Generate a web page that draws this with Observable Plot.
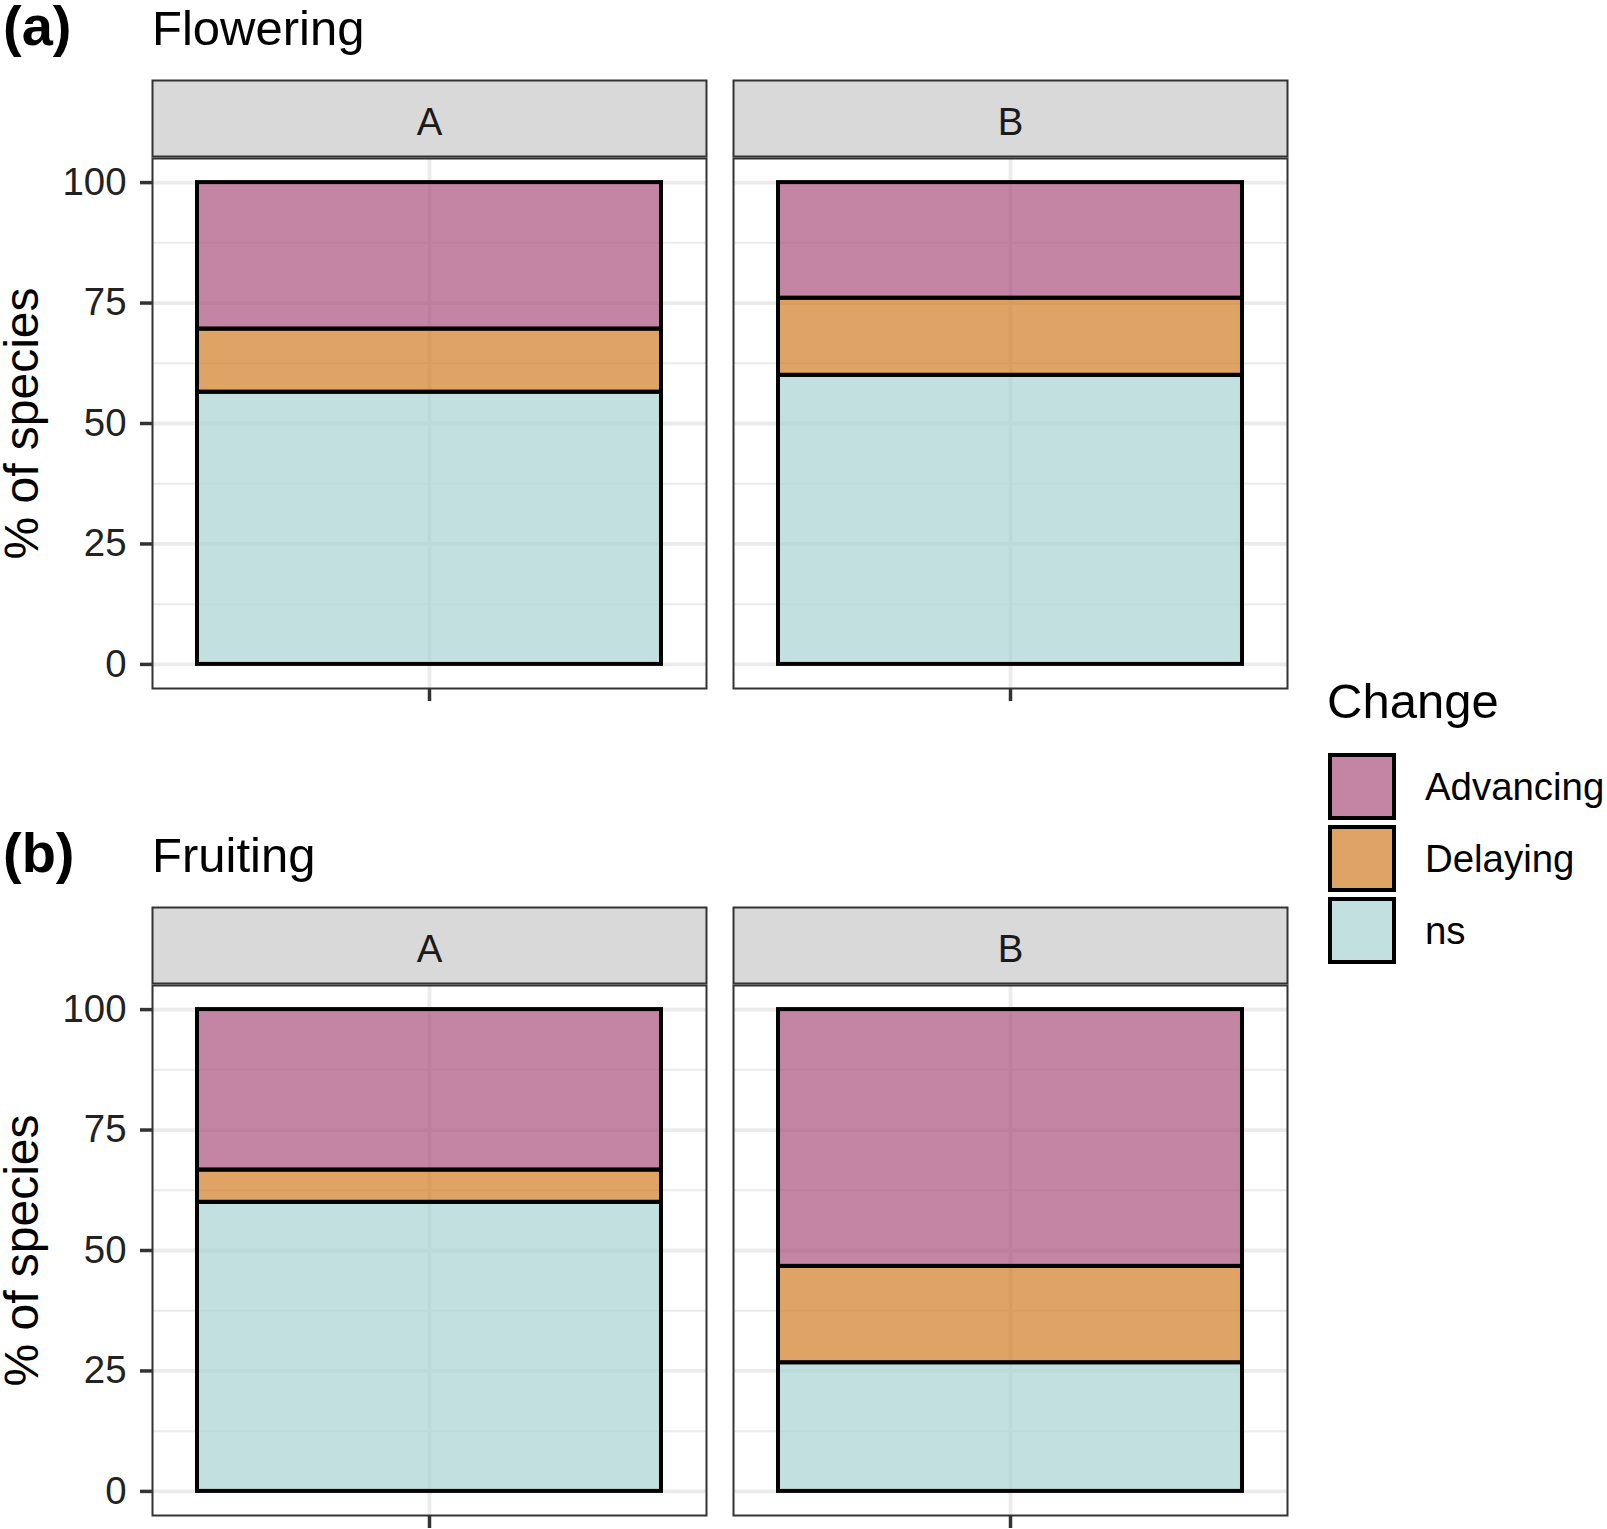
<!DOCTYPE html>
<html><head><meta charset="utf-8">
<script src="https://cdn.jsdelivr.net/npm/d3@7"></script>
<script src="https://cdn.jsdelivr.net/npm/@observablehq/plot@0.6"></script>
<style>
body{margin:0;background:#fff}
#root{position:relative;width:1607px;height:1529px;background:#fff;overflow:hidden;font-family:"Liberation Sans",Arial,sans-serif}
.row{position:absolute;left:0}
.row svg{overflow:visible}
g[aria-label="y-axis label"], g[aria-label="y-axis label"] text{font-size:48px;fill:#000}
#overlay{position:absolute;left:0;top:0;pointer-events:none}
</style></head><body><div id="root"></div>
<script>
// ---- data ----
const sites = ["A", "B"];
const changes = ["Advancing", "Delaying", "ns"];
const colors = ["#A9517C", "#D17C24", "#A8D3D3"];
const phases = ["Flowering", "Fruiting"];
const tags = ["(a)", "(b)"];
// % of species, in the order Advancing, Delaying, ns
const floweringA = [30.4, 13.1, 56.5];
const floweringB = [24.0, 16.0, 60.0];
const fruitingA = [33.3, 6.7, 60.0];
const fruitingB = [53.3, 20.0, 26.7];
const yTicks = [0, 25, 50, 75, 100];
const yMinor = [12.5, 37.5, 62.5, 87.5];
const yLabel = "% of species";
const legendTitle = "Change";
const group = "all";

const values = {Flowering: {A: floweringA, B: floweringB}, Fruiting: {A: fruitingA, B: fruitingB}};

const FONT = '"Liberation Sans", Arial, sans-serif';
const root = document.getElementById("root");
const rowTops = [70, 897];

phases.forEach((phase, pi) => {
  // stacking order: ns at bottom, then Delaying, then Advancing
  const table = sites.flatMap(site =>
    changes.map((change, ci) => ({site, change, group, value: values[phase][site][ci]})).reverse()
  );
  const chart = Plot.plot({
    width: 1300, height: 632,
    marginTop: 88, marginBottom: 14, marginLeft: 152, marginRight: 13,
    style: {fontFamily: FONT, fontSize: "38.4px", color: "#333", background: "transparent", overflow: "visible"},
    fx: {domain: sites, paddingInner: 0.0465, paddingOuter: 0, axis: null, label: null, round: false},
    x: {domain: [group], paddingInner: 0, paddingOuter: 0.097, round: false},
    y: {domain: [-5, 105]},
    color: {domain: changes, range: colors},
    marks: [
      Plot.gridY(yMinor, {stroke: "#EBEBEB", strokeOpacity: 1, strokeWidth: 1.9}),
      Plot.gridY(yTicks, {stroke: "#EBEBEB", strokeOpacity: 1, strokeWidth: 3.8}),
      Plot.gridX([group], {stroke: "#EBEBEB", strokeOpacity: 1, strokeWidth: 3.8}),
      Plot.barY(table, {fx: "site", x: "group", y: "value", fill: "change", fillOpacity: 0.7, stroke: "black", strokeWidth: 4}),
      Plot.frame({stroke: "#333", strokeWidth: 2}),
      Plot.frame({fill: "#D9D9D9", stroke: "#333", strokeWidth: 2, insetTop: -78, insetBottom: 532}),
      Plot.text(sites, {fx: d => d, text: d => d, frameAnchor: "top", dy: -51, fontSize: 38.4, fill: "#1A1A1A"}),
      Plot.axisY(yTicks, {tickSize: 12, tickPadding: 14, stroke: "#333", strokeWidth: 3.5, fill: "#222", fontSize: 38.4, label: yLabel, labelAnchor: "center", labelArrow: "none"}),
      Plot.axisX([group], {tickSize: 13, stroke: "#333", strokeWidth: 3.5, tickFormat: () => "", label: null})
    ]
  });
  const div = document.createElement("div");
  div.className = "row";
  div.style.top = rowTops[pi] + "px";
  div.appendChild(chart);
  root.appendChild(div);
});

// ---- titles and legend ----
const svg = d3.select(root).append("svg").attr("id", "overlay")
  .attr("width", 1607).attr("height", 1529).style("font-family", FONT);
const titleBaselines = [45, 872];
phases.forEach((phase, i) => {
  svg.append("text").attr("x", 3).attr("y", titleBaselines[i])
    .attr("font-size", 56).attr("font-weight", "bold").attr("fill", "#000").text(tags[i]);
  svg.append("text").attr("x", 152).attr("y", titleBaselines[i])
    .attr("font-size", 49).attr("fill", "#000").text(phase);
});
svg.append("text").attr("x", 1327).attr("y", 718).attr("font-size", 49).attr("fill", "#000").text(legendTitle);
const keys = svg.append("g").selectAll("g").data(changes).join("g")
  .attr("transform", (d, i) => `translate(1330,${755 + i * 72})`);
keys.append("rect").attr("width", 64).attr("height", 63)
  .attr("fill", (d, i) => colors[i]).attr("fill-opacity", 0.7)
  .attr("stroke", "#000").attr("stroke-width", 4);
keys.append("text").attr("x", 95).attr("y", 32).attr("dy", "0.35em")
  .attr("font-size", 38.4).attr("fill", "#000").text(d => d);
</script></body></html>
